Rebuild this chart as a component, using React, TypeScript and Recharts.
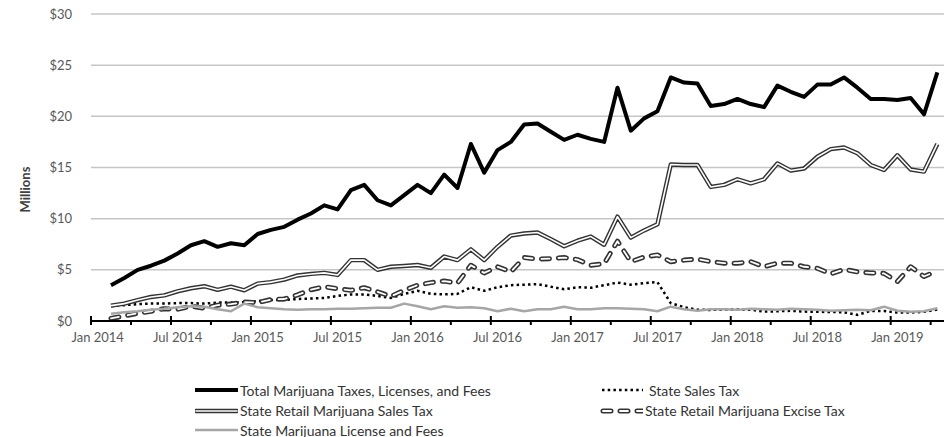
import React from 'react';
import { ComposedChart, Line, XAxis, YAxis, CartesianGrid } from 'recharts';

const MONTH_NAMES = ['Jan', 'Feb', 'Mar', 'Apr', 'May', 'Jun', 'Jul', 'Aug', 'Sep', 'Oct', 'Nov', 'Dec'];

// Categories: Feb 2014 .. Apr 2019 (monthly)
const months: string[] = (() => {
  const out: string[] = [];
  let y = 2014;
  let m = 1;
  while (!(y === 2019 && m === 4)) {
    out.push(`${MONTH_NAMES[m]} ${y}`);
    m += 1;
    if (m === 12) { m = 0; y += 1; }
  }
  out.push('Apr 2019');
  return out;
})();

// Values in $ millions
const totalTaxes = [
  3.5, 4.2, 5.0, 5.4, 5.9, 6.6, 7.4, 7.8, 7.25, 7.6, 7.4,
  8.5, 8.9, 9.2, 9.9, 10.5, 11.3, 10.9, 12.8, 13.3, 11.8, 11.3, 12.3,
  13.3, 12.5, 14.3, 13.0, 17.3, 14.5, 16.7, 17.5, 19.2, 19.3, 18.5, 17.7,
  18.2, 17.8, 17.5, 22.8, 18.6, 19.8, 20.5, 23.8, 23.3, 23.2, 21.0, 21.2,
  21.7, 21.2, 20.9, 23.0, 22.4, 21.9, 23.1, 23.1, 23.8, 22.8, 21.7, 21.7,
  21.6, 21.8, 20.2, 24.3,
];
const stateSalesTax = [
  1.45, 1.55, 1.65, 1.7, 1.7, 1.75, 1.75, 1.7, 1.8, 1.8, 1.85,
  1.95, 2.05, 2.05, 2.15, 2.2, 2.25, 2.45, 2.6, 2.6, 2.45, 2.25, 2.64,
  2.95, 2.65, 2.6, 2.65, 3.3, 2.95, 3.3, 3.5, 3.55, 3.6, 3.35, 3.1,
  3.3, 3.25, 3.5, 3.75, 3.55, 3.7, 3.8, 1.75, 1.35, 1.1, 1.08, 1.12,
  1.12, 1.1, 0.92, 0.95, 1.0, 0.92, 0.9, 0.88, 0.85, 0.6, 0.98, 0.98,
  0.82, 0.82, 0.9, 1.12,
];
const retailSalesTax = [
  1.5, 1.7, 2.05, 2.35, 2.5, 2.9, 3.2, 3.4, 3.05, 3.35, 3.0,
  3.65, 3.8, 4.05, 4.45, 4.6, 4.7, 4.5, 5.95, 5.95, 5.0, 5.3, 5.38,
  5.47, 5.2, 6.3, 5.95, 7.0, 5.95, 7.25, 8.35, 8.55, 8.65, 8.0, 7.3,
  7.85, 8.25, 7.45, 10.2, 8.15, 8.85, 9.45, 15.3, 15.25, 15.25, 13.1, 13.3,
  13.85, 13.45, 13.85, 15.4, 14.7, 14.9, 16.05, 16.8, 16.95, 16.4, 15.25, 14.75,
  16.2, 14.8, 14.6, 17.3,
];
const exciseTax = [
  0.25, 0.5, 0.75, 0.95, 1.2, 1.15, 1.45, 1.25, 1.55, 1.65, 1.85,
  1.8, 2.1, 2.15, 2.55, 3.05, 3.35, 3.15, 3.0, 3.25, 2.85, 2.4, 3.0,
  3.5, 3.75, 3.9, 3.7, 5.45, 4.7, 5.3, 4.8, 6.2, 6.05, 6.1, 6.2,
  6.0, 5.45, 5.6, 7.8, 5.8, 6.25, 6.45, 5.8, 5.95, 6.05, 5.8, 5.65,
  5.65, 5.8, 5.3, 5.65, 5.65, 5.3, 5.15, 4.6, 5.05, 4.8, 4.7, 4.65,
  3.85, 5.3, 4.35, 4.9,
];
const licenseFees = [
  0.7, 0.85, 0.95, 1.1, 1.2, 1.35, 1.45, 1.4, 1.15, 0.95, 1.7,
  1.35, 1.25, 1.15, 1.1, 1.15, 1.15, 1.2, 1.2, 1.25, 1.3, 1.3, 1.7,
  1.45, 1.15, 1.45, 1.3, 1.35, 1.25, 0.95, 1.2, 0.95, 1.15, 1.15, 1.4,
  1.15, 1.15, 1.25, 1.25, 1.2, 1.15, 0.95, 1.4, 1.15, 1.0, 1.15, 1.15,
  1.1, 1.2, 1.15, 1.1, 1.2, 1.15, 1.1, 1.0, 1.05, 1.1, 1.05, 1.4,
  1.0, 0.9, 0.95, 1.25,
];

const yTicks = [0, 5, 10, 15, 20, 25, 30];
const xTickLabels = ['Jan 2014', 'Jul 2014', 'Jan 2015', 'Jul 2015', 'Jan 2016', 'Jul 2016', 'Jan 2017', 'Jul 2017', 'Jan 2018', 'Jul 2018', 'Jan 2019'];

const SERIES = {
  total: 'Total Marijuana Taxes, Licenses, and Fees',
  sales: 'State Sales Tax',
  retail: 'State Retail Marijuana Sales Tax',
  excise: 'State Retail Marijuana Excise Tax',
  license: 'State Marijuana License and Fees',
};

const monthPos = (label: string) => {
  const [mon, yr] = label.split(' ');
  return (Number(yr) - 2014) * 12 + MONTH_NAMES.indexOf(mon);
};

const data = months.map((m, k) => ({
  idx: monthPos(m),
  month: m,
  total: totalTaxes[k],
  sales: stateSalesTax[k],
  retail: retailSalesTax[k],
  excise: exciseTax[k],
  license: licenseFees[k],
}));

const X_DOMAIN: [number, number] = [-0.5, 63.5];
const labelTicks = xTickLabels.map(monthPos);
const markTicks: number[] = [];
for (let v = -0.5; v <= 62.5; v += 3) markTicks.push(v);

const FONT = 'Lato, "Open Sans", sans-serif';
const AXIS_TEXT = '#595959';

const MarkTick = (props: any) => {
  const { x, y, payload } = props;
  const k = Math.round((payload.value + 0.5) / 3);
  const major = k % 2 === 0;
  return (
    <line x1={x} x2={x} y1={major ? y - 5 : y} y2={y + 4} stroke="#000" strokeWidth={2} />
  );
};

const Swatch = ({ kind }: { kind: string }) => {
  const w = 43;
  return (
    <svg width={w} height={10} style={{ display: 'block' }}>
      {kind === 'total' && <line x1={0} x2={w} y1={5} y2={5} stroke="#000" strokeWidth={4} />}
      {kind === 'retail' && (
        <>
          <line x1={1} x2={w - 1} y1={5} y2={5} stroke="#333" strokeWidth={4.4} strokeLinecap="round" />
          <line x1={1} x2={w - 1} y1={5} y2={5} stroke="#fff" strokeWidth={1.6} strokeLinecap="round" />
        </>
      )}
      {kind === 'license' && <line x1={0} x2={w} y1={5} y2={5} stroke="#a6a6a6" strokeWidth={2.5} />}
      {kind === 'sales' && <line x1={2} x2={w} y1={5} y2={5} stroke="#000" strokeWidth={2.5} strokeDasharray="2.5 3.2" />}
      {kind === 'excise' && (
        <>
          <line x1={3} x2={w} y1={5} y2={5} stroke="#333" strokeWidth={5} strokeDasharray="8 9" strokeLinecap="round" />
          <line x1={3} x2={w} y1={5} y2={5} stroke="#fff" strokeWidth={1.8} strokeDasharray="8 9" strokeLinecap="round" />
        </>
      )}
    </svg>
  );
};

const legendItems = [
  { key: 'total', left: 195, top: 390 },
  { key: 'sales', left: 600, top: 390 },
  { key: 'retail', left: 195, top: 410.5 },
  { key: 'excise', left: 600, top: 410.5 },
  { key: 'license', left: 195, top: 430 },
];

const MillionsLabel = (props: any) => {
  const vb = props.viewBox || { x: 0, y: 14, width: 91, height: 307 };
  const cx = vb.x + 25;
  const cy = vb.y + vb.height / 2 + 22;
  return (
    <text
      x={cx}
      y={cy}
      transform={`rotate(-90, ${cx}, ${cy})`}
      textAnchor="middle"
      dominantBaseline="central"
      fontFamily={FONT}
      fontSize={13}
      fontWeight={700}
      fill="#404040"
    >
      Millions
    </text>
  );
};

export default function App() {
  return (
    <div style={{ position: 'absolute', left: 0, top: 0, width: 944, height: 437, background: '#fff', overflow: 'hidden' }}>
      <ComposedChart
        width={944}
        height={437}
        data={data}
        margin={{ top: 14, right: 0, bottom: 80, left: 0 }}
      >
        <CartesianGrid vertical={false} stroke="#c6c6c6" strokeWidth={1.5} />
        <XAxis
          type="number"
          dataKey="idx"
          domain={X_DOMAIN}
          ticks={markTicks}
          interval={0}
          tick={<MarkTick />}
          tickLine={false}
          tickSize={0}
          tickMargin={0}
          axisLine={{ stroke: '#000', strokeWidth: 2 }}
          height={6}
        />
        <XAxis
          xAxisId="labels"
          type="number"
          dataKey="idx"
          domain={X_DOMAIN}
          ticks={labelTicks}
          interval={0}
          tickFormatter={(v: number) => xTickLabels[labelTicks.indexOf(v)] ?? ''}
          tickLine={false}
          axisLine={false}
          tickSize={0}
          tickMargin={6}
          height={30}
          tick={{ fill: AXIS_TEXT, fontSize: 13, fontFamily: FONT }}
        />
        <YAxis
          type="number"
          domain={[0, 30]}
          ticks={yTicks}
          interval={0}
          width={91}
          axisLine={false}
          tickLine={false}
          tickSize={0}
          tickMargin={19}
          tickFormatter={(v: number) => `$${v}`}
          tick={{ fill: AXIS_TEXT, fontSize: 13, fontFamily: FONT }}
          label={<MillionsLabel />}
        />
        <Line
          type="linear"
          dataKey="total"
          name={SERIES.total}
          stroke="#000"
          strokeWidth={4}
          strokeLinejoin="round"
          dot={false}
          activeDot={false}
          isAnimationActive={false}
        />
        <Line
          type="linear"
          dataKey="sales"
          name={SERIES.sales}
          stroke="#000"
          strokeWidth={2.5}
          strokeDasharray="2.5 3.2"
          dot={false}
          activeDot={false}
          isAnimationActive={false}
        />
        <Line
          type="linear"
          dataKey="retail"
          name={SERIES.retail}
          stroke="#333"
          strokeWidth={4.4}
          strokeLinejoin="round"
          dot={false}
          activeDot={false}
          isAnimationActive={false}
          legendType="none"
        />
        <Line
          type="linear"
          dataKey="retail"
          name={SERIES.retail + ' (inner)'}
          stroke="#fff"
          strokeWidth={1.6}
          strokeLinejoin="round"
          dot={false}
          activeDot={false}
          isAnimationActive={false}
          legendType="none"
        />
        <Line
          type="linear"
          dataKey="excise"
          name={SERIES.excise}
          stroke="#333"
          strokeWidth={5}
          strokeDasharray="8 9"
          strokeLinecap="round"
          strokeLinejoin="round"
          dot={false}
          activeDot={false}
          isAnimationActive={false}
        />
        <Line
          type="linear"
          dataKey="excise"
          name={SERIES.excise + ' (inner)'}
          stroke="#fff"
          strokeWidth={1.8}
          strokeDasharray="8 9"
          strokeLinecap="round"
          strokeLinejoin="round"
          dot={false}
          activeDot={false}
          isAnimationActive={false}
          legendType="none"
        />
        <Line
          type="linear"
          dataKey="license"
          name={SERIES.license}
          stroke="#a6a6a6"
          strokeWidth={2.5}
          strokeLinejoin="round"
          dot={false}
          activeDot={false}
          isAnimationActive={false}
        />
      </ComposedChart>
      {legendItems.map((it) => (
        <div
          key={it.key}
          style={{
            position: 'absolute',
            left: it.left,
            top: it.top - 10,
            height: 20,
            display: 'flex',
            alignItems: 'center',
            fontFamily: FONT,
            fontSize: 14,
            color: '#333',
            whiteSpace: 'nowrap',
          }}
        >
          <Swatch kind={it.key} />
          <span style={{ marginLeft: it.key === 'sales' ? 6 : 2 }}>{(SERIES as any)[it.key]}</span>
        </div>
      ))}
    </div>
  );
}
